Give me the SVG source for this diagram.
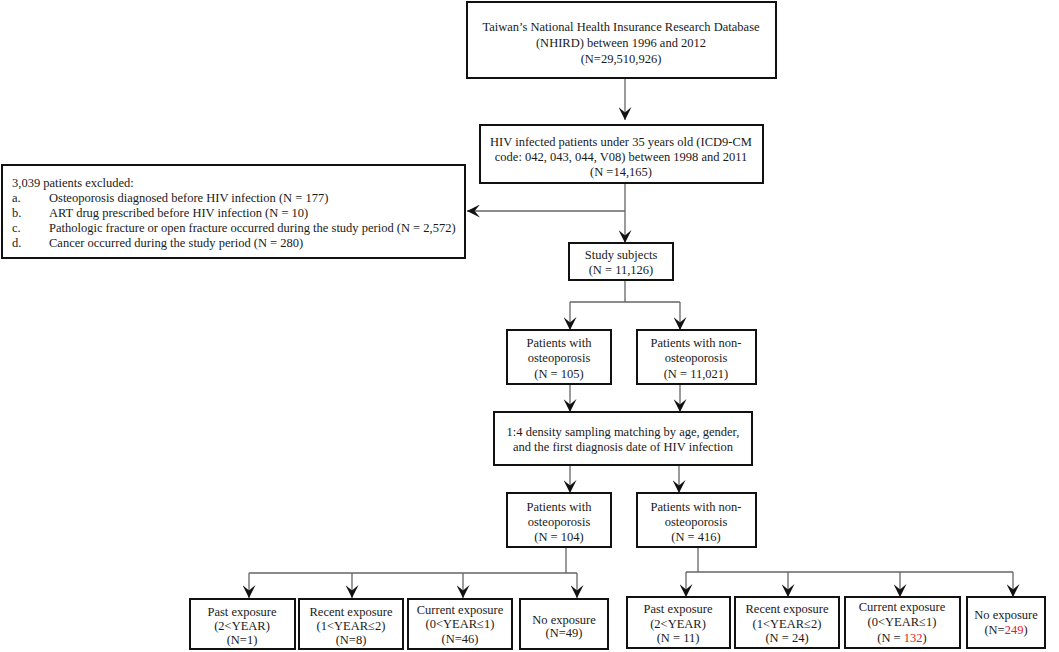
<svg xmlns="http://www.w3.org/2000/svg" width="1059" height="652" viewBox="0 0 1059 652">
<defs>
<style>
.box{fill:#fff;stroke:#111;stroke-width:2}
.t{font-family:"Liberation Serif","Times New Roman",serif;font-size:12.5px;fill:#1a1a1a;text-anchor:middle}
.l{text-anchor:start}
.c{fill:none;stroke:#666;stroke-width:1.3}
.red{fill:#e0201c}
</style>
<marker id="ah" viewBox="0 0 12 12" refX="12" refY="6" markerWidth="13" markerHeight="13" markerUnits="userSpaceOnUse" orient="auto">
<path d="M0,0 L12,6 L0,12 L5,6 z" fill="#111"/>
</marker>
</defs>
<rect width="1059" height="652" fill="#fff"/>
<g id="connectors">
<path class="c" d="M625,78 V120" marker-end="url(#ah)"/>
<path class="c" d="M625,183 V243" marker-end="url(#ah)"/>
<path class="c" d="M625,211 H467" marker-end="url(#ah)"/>
<path class="c" d="M625,280 V302 M570,302 H680"/>
<path class="c" d="M570,302 V330" marker-end="url(#ah)"/>
<path class="c" d="M680,302 V330" marker-end="url(#ah)"/>
<path class="c" d="M570,384 V412" marker-end="url(#ah)"/>
<path class="c" d="M680,384 V412" marker-end="url(#ah)"/>
<path class="c" d="M570,465 V493" marker-end="url(#ah)"/>
<path class="c" d="M679,465 V493" marker-end="url(#ah)"/>
<path class="c" d="M566,547 V573 M249,573 H577"/>
<path class="c" d="M249,573 V598" marker-end="url(#ah)"/>
<path class="c" d="M352,573 V598" marker-end="url(#ah)"/>
<path class="c" d="M463,573 V598" marker-end="url(#ah)"/>
<path class="c" d="M577,573 V598" marker-end="url(#ah)"/>
<path class="c" d="M698,547 V572 M686,572 H1013"/>
<path class="c" d="M686,572 V597" marker-end="url(#ah)"/>
<path class="c" d="M788,572 V597" marker-end="url(#ah)"/>
<path class="c" d="M900,572 V597" marker-end="url(#ah)"/>
<path class="c" d="M1013,572 V597" marker-end="url(#ah)"/>
</g>
<g id="nhird">
<rect class="box" x="467" y="2" width="309" height="76"/>
<text class="t" x="621" y="31">Taiwan’s National  Health  Insurance Research Database</text>
<text class="t" x="621" y="47">(NHIRD)  between  1996  and  2012</text>
<text class="t" x="621" y="63">(N=29,510,926)</text>
</g>
<g id="hiv">
<rect class="box" x="480" y="125" width="283" height="58"/>
<text class="t" x="621" y="146">HIV infected patients under 35 years old (ICD9-CM</text>
<text class="t" x="621" y="161">code: 042,  043, 044, V08) between 1998 and 2011</text>
<text class="t" x="621" y="176">(N =14,165)</text>
</g>
<g id="excluded">
<rect class="box" x="2" y="165" width="463" height="93"/>
<text class="t l" x="12" y="187">3,039 patients excluded:</text>
<text class="t l" x="12" y="202">a.</text>
<text class="t l" x="49" y="202">Osteoporosis diagnosed before HIV infection  (N = 177)</text>
<text class="t l" x="12" y="217">b.</text>
<text class="t l" x="49" y="217">ART drug prescribed before HIV infection (N = 10)</text>
<text class="t l" x="12" y="232">c.</text>
<text class="t l" x="49" y="232">Pathologic fracture or open fracture occurred during the study period (N = 2,572)</text>
<text class="t l" x="12" y="247">d.</text>
<text class="t l" x="49" y="247">Cancer occurred during  the study period (N = 280)</text>
</g>
<g id="study">
<rect class="box" x="569" y="243" width="104" height="37"/>
<text class="t" x="621" y="259">Study subjects</text>
<text class="t" x="621" y="274">(N = 11,126)</text>
</g>
<g id="osteo1">
<rect class="box" x="507" y="330" width="104" height="54"/>
<text class="t" x="559" y="347">Patients with</text>
<text class="t" x="559" y="362">osteoporosis</text>
<text class="t" x="559" y="378">(N = 105)</text>
</g>
<g id="nonosteo1">
<rect class="box" x="637" y="330" width="119" height="54"/>
<text class="t" x="696" y="347">Patients with non-</text>
<text class="t" x="696" y="362">osteoporosis</text>
<text class="t" x="696" y="378">(N = 11,021)</text>
</g>
<g id="matching">
<rect class="box" x="494" y="412" width="258" height="53"/>
<text class="t" x="623" y="436">1:4 density sampling matching by age, gender,</text>
<text class="t" x="623" y="451">and the first diagnosis date of HIV infection</text>
</g>
<g id="osteo2">
<rect class="box" x="507" y="493" width="104" height="54"/>
<text class="t" x="559" y="511">Patients with</text>
<text class="t" x="559" y="526">osteoporosis</text>
<text class="t" x="559" y="541">(N = 104)</text>
</g>
<g id="nonosteo2">
<rect class="box" x="637" y="493" width="119" height="54"/>
<text class="t" x="696" y="511">Patients with non-</text>
<text class="t" x="696" y="526">osteoporosis</text>
<text class="t" x="696" y="541">(N = 416)</text>
</g>
<g id="l-past">
<rect class="box" x="190" y="599" width="105" height="50"/>
<text class="t" x="242" y="616">Past exposure</text>
<text class="t" x="242" y="630">(2&lt;YEAR)</text>
<text class="t" x="242" y="644">(N=1)</text>
</g>
<g id="l-recent">
<rect class="box" x="299" y="599" width="104" height="50"/>
<text class="t" x="351" y="616">Recent exposure</text>
<text class="t" x="351" y="630">(1&lt;YEAR≤2)</text>
<text class="t" x="351" y="644">(N=8)</text>
</g>
<g id="l-current">
<rect class="box" x="408" y="599" width="104" height="50"/>
<text class="t" x="460" y="614">Current exposure</text>
<text class="t" x="460" y="628">(0&lt;YEAR≤1)</text>
<text class="t" x="460" y="643">(N=46)</text>
</g>
<g id="l-no">
<rect class="box" x="520" y="599" width="88" height="50"/>
<text class="t" x="564" y="624">No exposure</text>
<text class="t" x="564" y="637">(N=49)</text>
</g>
<g id="r-past">
<rect class="box" x="627" y="597" width="103" height="51"/>
<text class="t" x="678" y="613">Past exposure</text>
<text class="t" x="678" y="628">(2&lt;YEAR)</text>
<text class="t" x="678" y="642">(N = 11)</text>
</g>
<g id="r-recent">
<rect class="box" x="735" y="597" width="104" height="51"/>
<text class="t" x="787" y="613">Recent exposure</text>
<text class="t" x="787" y="628">(1&lt;YEAR≤2)</text>
<text class="t" x="787" y="642">(N = 24)</text>
</g>
<g id="r-current">
<rect class="box" x="845" y="597" width="115" height="51"/>
<text class="t" x="902" y="611">Current exposure</text>
<text class="t" x="902" y="626">(0&lt;YEAR≤1)</text>
<text class="t" x="902" y="642">(N = <tspan class="red">132</tspan>)</text>
</g>
<g id="r-no">
<rect class="box" x="967" y="597" width="78" height="51"/>
<text class="t" x="1006" y="619">No exposure</text>
<text class="t" x="1006" y="634">(N=<tspan class="red">249</tspan>)</text>
</g>
</svg>
